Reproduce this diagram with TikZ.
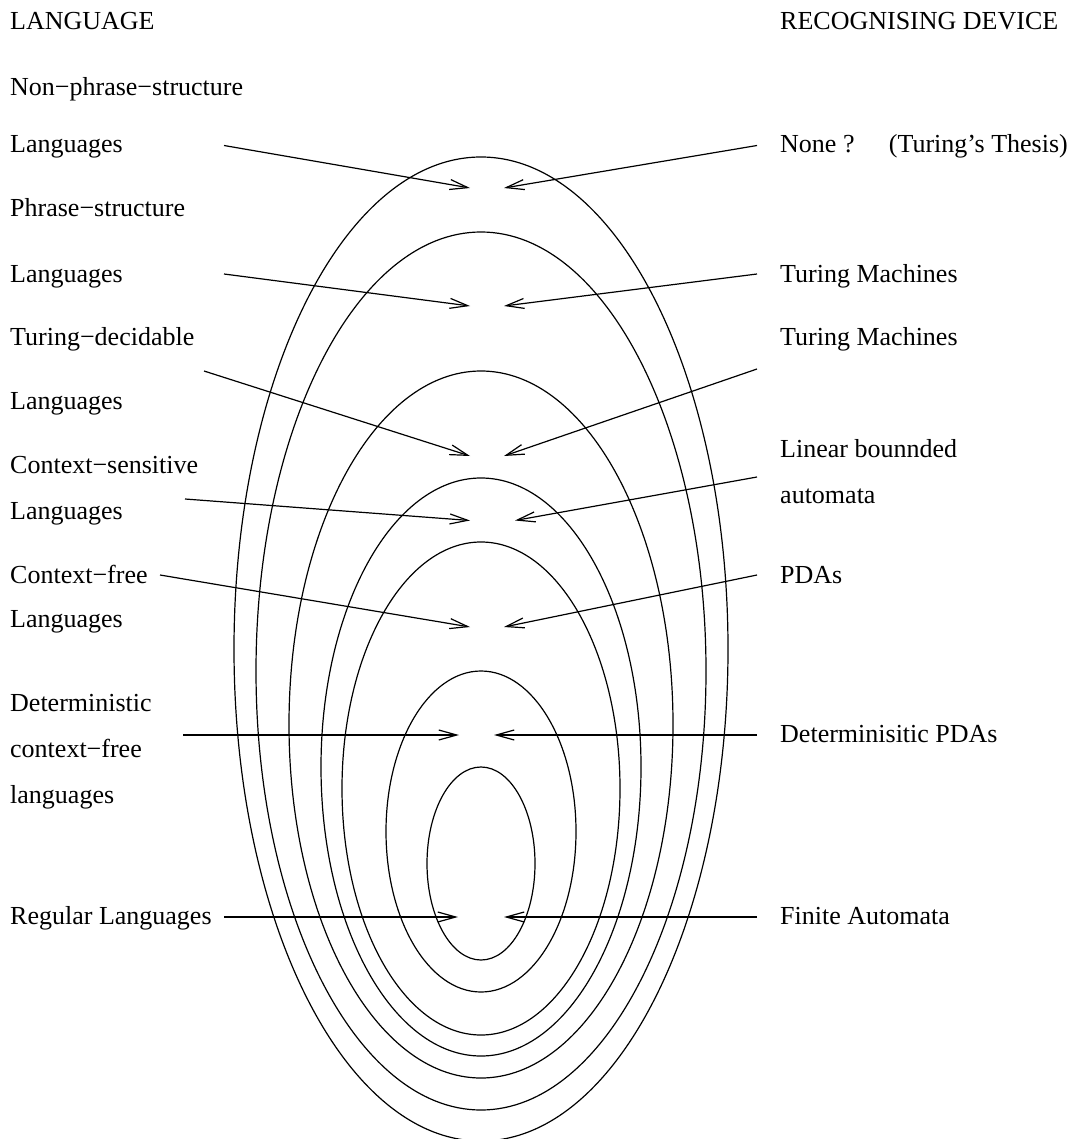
\documentclass[tikz,border=0pt]{standalone}
\usepackage{fontspec}
\setmainfont{Liberation Serif}
\usetikzlibrary{arrows.meta}
\begin{document}
\begin{tikzpicture}[x=1pt,y=-1pt,
  lbl/.style={anchor=base west,inner sep=0pt,font=\fontsize{26}{30}\selectfont},
  ell/.style={line width=1.2pt},
  arr/.style={line width=1.2pt,-{Straight Barb[length=18pt,width=10pt]}}]
\useasboundingbox (0,0) rectangle (1071,1139);
\begin{scope}
\clip (0,0) rectangle (1071,1139);
\draw[ell] (481,649) ellipse [x radius=247pt, y radius=492pt];
\draw[ell] (481,671) ellipse [x radius=225pt, y radius=439pt];
\draw[ell] (481,724.5) ellipse [x radius=192pt, y radius=353.5pt];
\draw[ell] (481,767) ellipse [x radius=160pt, y radius=289pt];
\draw[ell] (481,788.5) ellipse [x radius=139pt, y radius=246.5pt];
\draw[ell] (481,831.5) ellipse [x radius=95pt, y radius=160.5pt];
\draw[ell] (481,863.5) ellipse [x radius=54pt, y radius=96.5pt];
\end{scope}
% headings
\node[lbl] (hl) at (10,30) {LANGUAGE};
\node[lbl] (hr) at (780,30) {RECOGNISING DEVICE};
% left labels
\node[lbl] (l1a) at (10,96) {Non−phrase−structure};
\node[lbl] (l1b) at (10,153) {Languages};
\node[lbl] (l2a) at (10,217) {Phrase−structure};
\node[lbl] (l2b) at (10,283) {Languages};
\node[lbl] (l3a) at (10,345) {Turing−decidable};
\node[lbl] (l3b) at (10,409) {Languages};
\node[lbl] (l4a) at (10,473) {Context−sensitive};
\node[lbl] (l4b) at (10,519) {Languages};
\node[lbl] (l5a) at (10,583) {Context−free};
\node[lbl] (l5b) at (10,627) {Languages};
\node[lbl] (l6a) at (10,711) {Deterministic};
\node[lbl] (l6b) at (10,757) {context−free};
\node[lbl] (l6c) at (10,803) {languages};
\node[lbl] (l7) at (10,924) {Regular Languages};
% right labels
\node[lbl] (r1) at (780,153) {None ?};
\node[lbl,anchor=base east] (r1b) at (1068,153) {(Turing’s Thesis)};
\node[lbl] (r2) at (780,283) {Turing Machines};
\node[lbl] (r3) at (780,345) {Turing Machines};
\node[lbl] (r4a) at (780,457) {Linear bounnded};
\node[lbl] (r4b) at (780,503) {automata};
\node[lbl] (r5) at (780,583) {PDAs};
\node[lbl] (r6) at (780,742) {Determinisitic PDAs};
\node[lbl] (r7) at (780,924) {Finite Automata};
% arrow end points
\coordinate (a1l) at (224,145.5); \coordinate (t1l) at (470,188);
\coordinate (a1r) at (757,145.5); \coordinate (t1r) at (504,188);
\coordinate (a2l) at (224,274); \coordinate (t2l) at (470,306);
\coordinate (a2r) at (757,274); \coordinate (t2r) at (504,306);
\coordinate (a3l) at (204,371); \coordinate (t3l) at (470,456);
\coordinate (a3r) at (757,369); \coordinate (t3r) at (504,456);
\coordinate (a4l) at (185,499); \coordinate (t4l) at (470,520.5);
\coordinate (a4r) at (757,477); \coordinate (t4r) at (515,520.5);
\coordinate (a5l) at (160,575); \coordinate (t5l) at (470,627);
\coordinate (a5r) at (757,575); \coordinate (t5r) at (504,627);
\coordinate (a6l) at (183,735); \coordinate (t6l) at (459,735);
\coordinate (a6r) at (757,735); \coordinate (t6r) at (494,735);
\coordinate (a7l) at (224,917); \coordinate (t7l) at (458,917);
\coordinate (a7r) at (757,917); \coordinate (t7r) at (504,917);
\foreach \i in {1,...,7}{
  \draw[arr] (a\i l) -- (t\i l);
  \draw[arr] (a\i r) -- (t\i r);
}
\end{tikzpicture}
\end{document}
